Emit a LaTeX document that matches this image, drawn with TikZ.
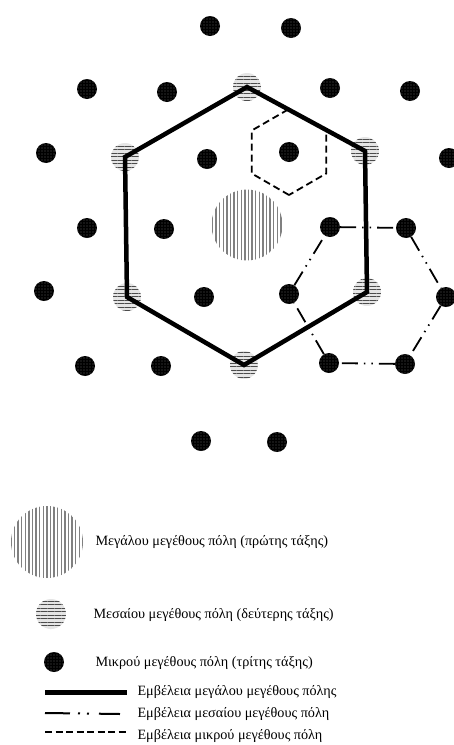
\documentclass[tikz,border=0pt]{standalone}
\usepackage{fontspec}
\setmainfont{Liberation Serif}
\usetikzlibrary{patterns.meta}

\begin{document}
\begin{tikzpicture}[x=1pt, y=-1pt,
      every node/.style={font=\fontsize{14.2}{17}\selectfont},
      bigcity/.style={circle, minimum size=71pt, inner sep=0pt,
          pattern={Lines[angle=90, distance=3.6pt, line width=1.4pt]}, pattern color=gray},
      midcity/.style={circle, minimum size=28pt, inner sep=0pt,
          preaction={fill=gray!20},
          pattern={Lines[angle=0, distance=3.5pt, line width=1pt]}, pattern color=gray!60!black},
      smallcity/.style={circle, minimum size=20pt, inner sep=0pt,
          preaction={fill=black},
          pattern={Dots[distance=3pt, radius=0.45pt]}, pattern color=white},
      rangebig/.style={line width=4.5pt, line join=miter},
      rangemid/.style={line width=1.8pt, dash pattern=on 16pt off 6pt on 1.5pt off 6pt on 1.5pt off 6pt},
      rangesmall/.style={line width=1.8pt, dash pattern=on 7pt off 4pt}]
    \useasboundingbox (0,0) rectangle (454,745);

    \node[bigcity] (big) at (247,225) {};

    \node[midcity] (m1) at (247,87) {};
    \node[midcity] (m2) at (365,151) {};
    \node[midcity] (m3) at (367,292) {};
    \node[midcity] (m4) at (244,365) {};
    \node[midcity] (m5) at (127,297) {};
    \node[midcity] (m6) at (125,157) {};

    \node[smallcity] (s1) at (210,26) {};
    \node[smallcity] (s2) at (291,28) {};
    \node[smallcity] (s3) at (87,89) {};
    \node[smallcity] (s4) at (167,92) {};
    \node[smallcity] (s5) at (330,88) {};
    \node[smallcity] (s6) at (410,91) {};
    \node[smallcity] (s7) at (46,153) {};
    \node[smallcity] (s8) at (207,159) {};
    \node[smallcity] (s9) at (289,152) {};
    \node[smallcity] (s10) at (449,158) {};
    \node[smallcity] (s11) at (87,228) {};
    \node[smallcity] (s12) at (164,229) {};
    \node[smallcity] (s13) at (330,227) {};
    \node[smallcity] (s14) at (406,228) {};
    \node[smallcity] (s15) at (44,291) {};
    \node[smallcity] (s16) at (204,297) {};
    \node[smallcity] (s17) at (289,294) {};
    \node[smallcity] (s18) at (446,297) {};
    \node[smallcity] (s19) at (85,366) {};
    \node[smallcity] (s20) at (161,366) {};
    \node[smallcity] (s21) at (329,363) {};
    \node[smallcity] (s22) at (405,364) {};
    \node[smallcity] (s23) at (201,441) {};
    \node[smallcity] (s24) at (277,442) {};

    \draw[rangesmall] ([shift={(90:43)}]s9.center) -- ([shift={(150:43)}]s9.center)
        -- ([shift={(210:43)}]s9.center) -- ([shift={(270:43)}]s9.center)
        -- ([shift={(330:43)}]s9.center) -- ([shift={(30:43)}]s9.center) -- cycle;
    \draw[rangebig] (m1.center) -- (m2.center) -- (m3.center) -- (m4.center)
        -- (m5.center) -- (m6.center) -- cycle;
    \draw[rangemid] (s13) -- (s14);
    \draw[rangemid] (s14) -- (s18);
    \draw[rangemid] (s18) -- (s22);
    \draw[rangemid] (s22) -- (s21);
    \draw[rangemid] (s21) -- (s17);
    \draw[rangemid] (s17) -- (s13);

    \node[bigcity, minimum size=72pt] (kbig) at (47,542) {};
    \node[anchor=west] (tbig) at (92,542) {Μεγάλου μεγέθους πόλη (πρώτης τάξης)};
    \node[midcity, minimum size=30pt] (kmid) at (51,614) {};
    \node[anchor=west] (tmid) at (90,615) {Μεσαίου μεγέθους πόλη (δεύτερης τάξης)};
    \node[smallcity] (ksmall) at (54,662) {};
    \node[anchor=west] (tsmall) at (92,663) {Μικρού μεγέθους πόλη (τρίτης τάξης)};

    \coordinate (lbig) at (45,692);
    \node[anchor=west] (tlbig) at (134,692) {Εμβέλεια μεγάλου μεγέθους πόλης};
    \draw[line width=5pt] (lbig) -- ([xshift=-7pt]tlbig.west);
    \coordinate (lmid) at (45,713);
    \node[anchor=west] (tlmid) at (134,714) {Εμβέλεια μεσαίου μεγέθους πόλη};
    \draw[line width=2pt, dash pattern=on 25pt off 8pt on 2pt off 7pt on 2pt off 10pt]
        (lmid) -- ([xshift=-14pt]tlmid.west);
    \coordinate (lsmall) at (45,732);
    \node[anchor=west] (tlsmall) at (134,736) {Εμβέλεια μικρού μεγέθους πόλη};
    \draw[line width=2pt, dash pattern=on 7pt off 3.5pt] (lsmall) -- ([xshift=-7pt,yshift=4pt]tlsmall.west);
  \end{tikzpicture}
\end{document}
